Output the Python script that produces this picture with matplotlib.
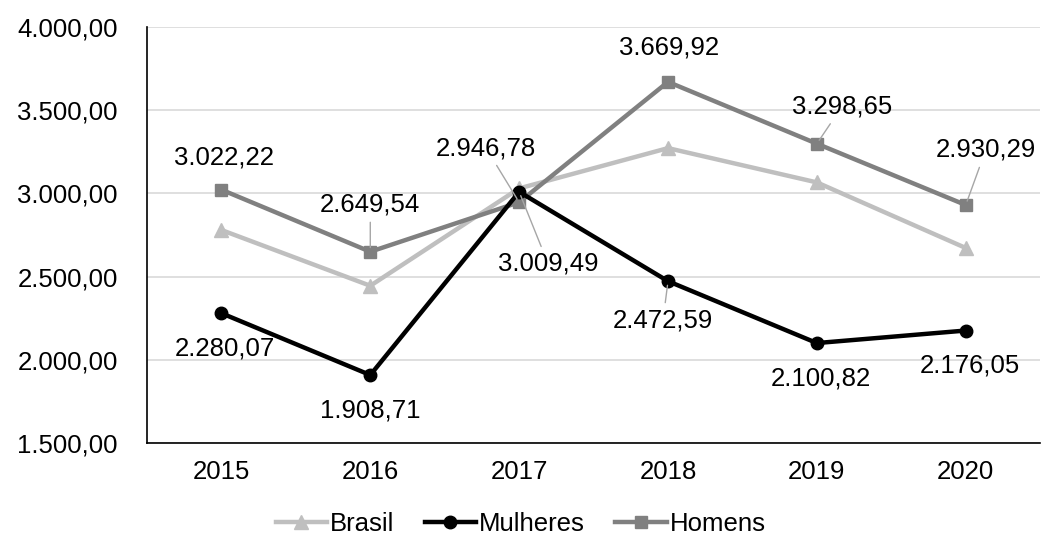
import matplotlib
matplotlib.use("Agg")
import matplotlib.pyplot as plt
import numpy as np

plt.rcParams['font.family'] = ['Liberation Sans', 'DejaVu Sans']

# dados
anos = ['2015', '2016', '2017', '2018', '2019', '2020']
brasil = [2780, 2445, 3030, 3272, 3066, 2672]
mulheres = [2280.07, 1908.71, 3009.49, 2472.59, 2100.82, 2176.05]
homens = [3022.22, 2649.54, 2946.78, 3669.92, 3298.65, 2930.29]

# deslocamento dos rotulos (pixels) e se tem linha guia
off_h = [(3, 32, False), (0, 47, True), (-33, 54, True), (1, 34, False), (25, 37, True), (20, 55, True)]
off_m = [(3, -35, False), (0, -35, False), (29, -72, True), (-5, -39, True), (4, -35, False), (4, -35, False)]

def fmt(v):
    s = f"{v:,.2f}"
    return s.replace(",", "X").replace(".", ",").replace("X", ".")

fig = plt.figure(figsize=(10.41, 5.39), dpi=100)
ax = fig.add_axes([0.1412, 0.178, 0.858, 0.772])

x = np.arange(len(anos))
ax.plot(x, brasil, color='#bfbfbf', lw=3.2, marker='^', ms=10, label='Brasil', zorder=3)
ax.plot(x, mulheres, color='black', lw=3.2, marker='o', ms=9, label='Mulheres', zorder=4)
ax.plot(x, homens, color='#808080', lw=3.2, marker='s', ms=8, label='Homens', zorder=3)

fs = 18.5
for serie, offs in [(homens, off_h), (mulheres, off_m)]:
    for i, v in enumerate(serie):
        dx, dy, guia = offs[i]
        ap = dict(arrowstyle='-', color='#a6a6a6', lw=1, shrinkA=2, shrinkB=3) if guia else None
        ax.annotate(fmt(v), (x[i], v), xytext=(dx, dy), textcoords='offset pixels',
                    ha='center', va='center', fontsize=fs, color='black',
                    arrowprops=ap, zorder=5)

ax.set_xlim(-0.5, len(anos) - 0.5)
ax.set_ylim(1500, 4000)
ax.set_yticks(np.arange(1500, 4001, 500))
ax.set_yticklabels([fmt(t) for t in np.arange(1500, 4001, 500)], fontsize=fs)
ax.set_xticks(x)
ax.set_xticklabels(anos, fontsize=fs)
ax.tick_params(axis='both', length=0, pad=12)
ax.tick_params(axis='y', pad=21)
ax.grid(axis='y', color='#d9d9d9', lw=1.2)
ax.set_axisbelow(True)
for s in ['top', 'right']:
    ax.spines[s].set_visible(False)
for s in ['left', 'bottom']:
    ax.spines[s].set_color('black')
    ax.spines[s].set_linewidth(1.2)

fig.legend(loc='lower center', bbox_to_anchor=(0.5, -0.037), ncol=3, frameon=False,
           fontsize=fs, handlelength=2.0, handletextpad=0.1, columnspacing=1.2)

fig.savefig('out.png', dpi=100)
